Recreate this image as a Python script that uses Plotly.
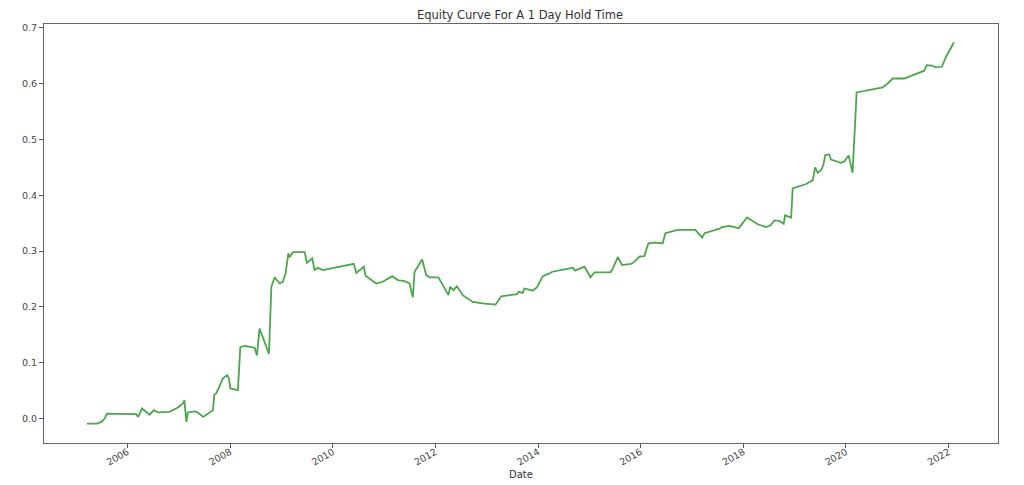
import plotly.graph_objects as go

dates = [
    "2005-03-18", "2005-05-29", "2005-06-29", "2005-07-23", "2005-08-08", "2006-02-22", "2006-03-05",
    "2006-03-19", "2006-04-14", "2006-06-08", "2006-07-08", "2006-08-06", "2006-10-28", "2006-12-26",
    "2007-01-31", "2007-02-10", "2007-02-24", "2007-03-07", "2007-04-23", "2007-05-17", "2007-06-24",
    "2007-09-01", "2007-09-11", "2007-09-25", "2007-11-11", "2007-12-12", "2007-12-24", "2008-01-03",
    "2008-02-26", "2008-03-14", "2008-04-14", "2008-06-24", "2008-07-10", "2008-07-29", "2008-10-04",
    "2008-10-21", "2008-11-13", "2008-12-19", "2009-01-11", "2009-01-30", "2009-02-19", "2009-02-28",
    "2009-03-23", "2009-06-15", "2009-07-01", "2009-08-08", "2009-08-24", "2009-09-17", "2009-10-22",
    "2010-05-31", "2010-06-17", "2010-08-10", "2010-08-22", "2010-11-06", "2010-12-23", "2011-02-28",
    "2011-04-09", "2011-05-27", "2011-07-01", "2011-07-25", "2011-08-06", "2011-09-29", "2011-10-28",
    "2011-11-20", "2012-01-23", "2012-04-03", "2012-04-15", "2012-05-09", "2012-06-02", "2012-07-14",
    "2012-09-23", "2012-12-15", "2013-03-04", "2013-04-14", "2013-08-06", "2013-08-17", "2013-09-14",
    "2013-09-26", "2013-11-24", "2013-12-23", "2014-02-04", "2014-03-24", "2014-04-12", "2014-09-05",
    "2014-09-22", "2014-11-27", "2015-01-09", "2015-02-07", "2015-06-01", "2015-06-17", "2015-07-23",
    "2015-08-22", "2015-10-25", "2015-11-18", "2015-12-23", "2016-01-27", "2016-02-25", "2016-04-08",
    "2016-06-06", "2016-06-25", "2016-09-21", "2017-01-25", "2017-03-14", "2017-03-31", "2017-07-15",
    "2017-08-03", "2017-09-24", "2017-11-29", "2018-01-27", "2018-04-13", "2018-06-12", "2018-07-12",
    "2018-08-10", "2018-09-14", "2018-10-15", "2018-10-25", "2018-12-07", "2018-12-18", "2019-03-24",
    "2019-05-10", "2019-05-27", "2019-06-14", "2019-07-08", "2019-07-24", "2019-08-07", "2019-09-04",
    "2019-09-16", "2019-11-26", "2019-12-19", "2020-01-20", "2020-02-17", "2020-03-17", "2020-09-18",
    "2020-10-24", "2020-11-28", "2021-02-19", "2021-07-11", "2021-07-28", "2021-09-04", "2021-10-03",
    "2021-11-14", "2021-12-13", "2022-02-08",
]

equity = [
    -0.009, -0.009, -0.006, 0.000, 0.009, 0.009, 0.008,
    0.003, 0.018, 0.007, 0.015, 0.011, 0.012, 0.020,
    0.027, 0.033, -0.006, 0.011, 0.013, 0.011, 0.003,
    0.015, 0.043, 0.045, 0.072, 0.078, 0.072, 0.054,
    0.051, 0.128, 0.130, 0.127, 0.113, 0.161, 0.116,
    0.236, 0.253, 0.242, 0.245, 0.260, 0.296, 0.289,
    0.298, 0.298, 0.279, 0.287, 0.266, 0.270, 0.266,
    0.277, 0.261, 0.272, 0.256, 0.242, 0.245, 0.255,
    0.248, 0.246, 0.242, 0.217, 0.263, 0.285, 0.257,
    0.253, 0.253, 0.221, 0.236, 0.230, 0.237, 0.221,
    0.209, 0.206, 0.204, 0.219, 0.223, 0.227, 0.225,
    0.233, 0.229, 0.235, 0.255, 0.260, 0.263, 0.270,
    0.265, 0.272, 0.253, 0.262, 0.262, 0.269, 0.289,
    0.275, 0.277, 0.281, 0.290, 0.291, 0.314, 0.315,
    0.314, 0.332, 0.338, 0.338, 0.324, 0.332, 0.340,
    0.343, 0.345, 0.341, 0.360, 0.348, 0.343, 0.346,
    0.355, 0.354, 0.349, 0.364, 0.360, 0.412, 0.420,
    0.427, 0.450, 0.440, 0.445, 0.454, 0.472, 0.473,
    0.464, 0.458, 0.460, 0.471, 0.440, 0.584, 0.593,
    0.600, 0.609, 0.609, 0.623, 0.633, 0.632, 0.629,
    0.630, 0.648, 0.674,
]

x_tick_vals = ["2006-01-01", "2008-01-01", "2010-01-01", "2012-01-01",
               "2014-01-01", "2016-01-01", "2018-01-01", "2020-01-01", "2022-01-01"]
x_tick_text = ["2006", "2008", "2010", "2012", "2014", "2016", "2018", "2020", "2022"]
y_tick_vals = [0.0, 0.1, 0.2, 0.3, 0.4, 0.5, 0.6, 0.7]
y_tick_text = ["0.0", "0.1", "0.2", "0.3", "0.4", "0.5", "0.6", "0.7"]

W, H = 1024, 485
ML, MR, MT, MB = 36, 34, 16, 50
plot_h = H - MT - MB

fig = go.Figure()
fig.add_trace(go.Scatter(
    x=dates, y=equity, mode="lines",
    line=dict(color="rgba(0,128,0,0.7)", width=1.8),
    showlegend=False,
))

fig.update_layout(
    width=W, height=H,
    margin=dict(l=ML, r=MR, t=MT, b=MB),
    paper_bgcolor="white", plot_bgcolor="white",
    title=dict(text="Equity Curve For A 1 Day Hold Time", x=0.5, xanchor="center",
               y=1 - 6.5 / H, yanchor="middle",
               font=dict(family="DejaVu Sans", size=11.5, color="#333333")),
    font=dict(family="DejaVu Sans", size=10, color="#333333"),
    annotations=[dict(
        text="Date", xref="paper", yref="paper", x=0.5, y=-31 / plot_h,
        xanchor="center", yanchor="middle", showarrow=False,
        font=dict(family="DejaVu Sans", size=10, color="#333333"),
    )],
)
fig.update_xaxes(
    type="date", automargin=False,
    range=["2004-05-17", "2022-12-18"],
    tickvals=x_tick_vals, ticktext=x_tick_text, tickangle=-30,
    ticks="outside", ticklen=4, tickcolor="#555555",
    ticklabelstandoff=-5,
    showline=True, linecolor="#666666", linewidth=1, mirror=True,
    showgrid=False, zeroline=False,
    tickfont=dict(family="DejaVu Sans", size=9.5, color="#444444"),
)
fig.update_yaxes(
    automargin=False,
    range=[-0.0437, 0.7066],
    tickvals=y_tick_vals, ticktext=y_tick_text,
    ticks="outside", ticklen=4, tickcolor="#555555",
    showline=True, linecolor="#666666", linewidth=1, mirror=True,
    showgrid=False, zeroline=False,
    tickfont=dict(family="DejaVu Sans", size=9.5, color="#444444"),
)

fig.write_html("out.html")
